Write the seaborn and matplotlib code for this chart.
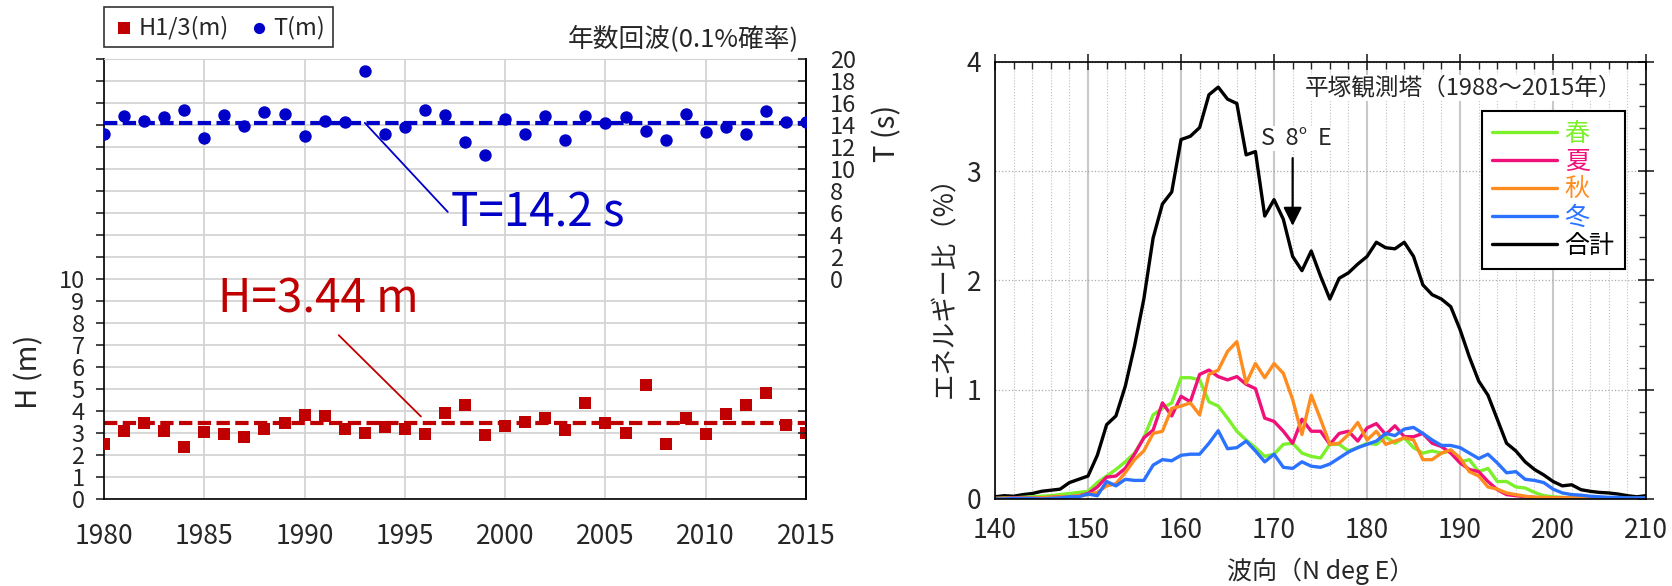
import numpy as np
import pandas as pd
import matplotlib
matplotlib.use("Agg")
import matplotlib.pyplot as plt
import seaborn as sns
from matplotlib.lines import Line2D
from matplotlib.ticker import MultipleLocator, FixedLocator

# ---- left panel data (annual max wave) ----
years = list(range(1980, 2016))
h13 = [2.52, 3.08, 3.44, 3.10, 2.37, 3.04, 2.96, 2.82, 3.16, 3.46,
       3.82, 3.79, 3.19, 3.00, 3.25, 3.16, 2.96, 3.90, 4.26, 2.90,
       3.31, 3.49, 3.67, 3.13, 4.35, 3.47, 3.00, 5.17, 2.49, 3.67,
       2.95, 3.87, 4.29, 4.83, 3.35, 3.00]
tper = [13.2, 14.8, 14.4, 14.7, 15.4, 12.85, 14.9, 13.9, 15.15, 15.0,
        13.0, 14.4, 14.3, 18.9, 13.2, 13.85, 15.4, 14.9, 12.45, 11.3,
        14.55, 13.15, 14.8, 12.65, 14.8, 14.15, 14.7, 13.5, 12.65, 15.0,
        13.4, 13.8, 13.2, 15.25, 14.3, 14.3]
H_MEAN = 3.44
T_MEAN = 14.2

# ---- right panel data (energy ratio by direction) ----
direction = list(range(140, 211))
spring = [0.005, 0.01, 0.01, 0.015, 0.02, 0.025, 0.03, 0.04, 0.05, 0.06,
          0.07, 0.15, 0.21, 0.27, 0.34, 0.42, 0.56, 0.77, 0.83, 0.88,
          1.11, 1.11, 1.09, 0.89, 0.85, 0.74, 0.62, 0.54, 0.47, 0.39,
          0.41, 0.50, 0.51, 0.42, 0.39, 0.375, 0.50, 0.50, 0.44, 0.47,
          0.51, 0.50, 0.57, 0.51, 0.56, 0.47, 0.42, 0.44, 0.42, 0.44,
          0.34, 0.36, 0.25, 0.28, 0.16, 0.16, 0.11, 0.10, 0.06, 0.03,
          0.02, 0.015, 0.01, 0.01, 0.01, 0.005, 0.005, 0.005, 0.005, 0.005,
          0.005]
summer = [0.005, 0.005, 0.01, 0.01, 0.01, 0.01, 0.015, 0.02, 0.02, 0.03,
          0.05, 0.11, 0.20, 0.21, 0.28, 0.41, 0.56, 0.63, 0.88, 0.76,
          0.94, 0.89, 1.14, 1.18, 1.12, 1.09, 1.12, 1.05, 1.01, 0.74,
          0.71, 0.62, 0.51, 0.73, 0.62, 0.62, 0.50, 0.60, 0.62, 0.53,
          0.65, 0.69, 0.59, 0.67, 0.57, 0.57, 0.60, 0.51, 0.48, 0.42,
          0.33, 0.27, 0.25, 0.16, 0.085, 0.04, 0.03, 0.02, 0.015, 0.01,
          0.01, 0.01, 0.005, 0.005, 0.005, 0.0, 0.0, 0.0, 0.0, 0.0,
          0.005]
autumn = [0.005, 0.005, 0.005, 0.01, 0.01, 0.01, 0.015, 0.02, 0.02, 0.03,
          0.04, 0.06, 0.12, 0.14, 0.24, 0.36, 0.44, 0.60, 0.62, 0.83,
          0.85, 0.88, 0.77, 1.14, 1.18, 1.35, 1.44, 1.06, 1.24, 1.11,
          1.24, 1.15, 0.91, 0.59, 0.95, 0.73, 0.50, 0.51, 0.59, 0.70,
          0.54, 0.62, 0.50, 0.53, 0.56, 0.54, 0.36, 0.36, 0.42, 0.45,
          0.375, 0.25, 0.21, 0.11, 0.09, 0.055, 0.04, 0.025, 0.015, 0.015,
          0.01, 0.01, 0.01, 0.01, 0.01, 0.01, 0.005, 0.005, 0.005, 0.005,
          0.005]
winter = [0.0, 0.0, 0.005, 0.005, 0.005, 0.0, 0.005, 0.01, 0.02, 0.02,
          0.045, 0.03, 0.16, 0.12, 0.18, 0.17, 0.17, 0.31, 0.36, 0.35,
          0.40, 0.41, 0.41, 0.51, 0.625, 0.46, 0.47, 0.53, 0.44, 0.34,
          0.41, 0.29, 0.28, 0.34, 0.30, 0.29, 0.32, 0.375, 0.43, 0.47,
          0.50, 0.53, 0.60, 0.58, 0.64, 0.655, 0.60, 0.54, 0.49, 0.49,
          0.47, 0.42, 0.37, 0.41, 0.33, 0.24, 0.25, 0.18, 0.17, 0.15,
          0.09, 0.055, 0.04, 0.035, 0.025, 0.02, 0.015, 0.015, 0.01, 0.01,
          0.01]
total = [0.02, 0.03, 0.025, 0.04, 0.05, 0.07, 0.08, 0.09, 0.15, 0.18,
         0.21, 0.40, 0.68, 0.76, 1.03, 1.40, 1.83, 2.39, 2.70, 2.81,
         3.29, 3.32, 3.40, 3.70, 3.77, 3.66, 3.62, 3.15, 3.18, 2.59,
         2.74, 2.56, 2.22, 2.09, 2.27, 2.04, 1.83, 2.02, 2.07, 2.15,
         2.22, 2.35, 2.30, 2.29, 2.35, 2.22, 1.96, 1.87, 1.83, 1.76,
         1.55, 1.30, 1.08, 0.95, 0.73, 0.51, 0.44, 0.34, 0.27, 0.22,
         0.16, 0.12, 0.13, 0.085, 0.07, 0.06, 0.055, 0.045, 0.03, 0.02,
         0.03]
seasons = ["合計", "春", "夏", "秋", "冬"]
legend_order = ["春", "夏", "秋", "冬", "合計"]
season_colors = {"春": "#7cf02a", "夏": "#f0107a", "秋": "#ff8c1e",
                 "冬": "#2a72ff", "合計": "#000000"}

RED = "#c00000"
BLUE = "#0000c8"
GRID = "#d4d4d4"

sns.set_style("white")
plt.rcParams["font.family"] = ["Noto Sans CJK JP", "DejaVu Sans"]
plt.rcParams["axes.unicode_minus"] = False

fig = plt.figure(figsize=(16.72, 5.86), dpi=100)

# ================= left panel =================
ax = fig.add_axes([0.0622, 0.1485, 0.4199, 0.7508])
ax2 = ax.twinx()

ax.set_xlim(1980, 2015)
ax.set_ylim(0, 20)
ax2.set_ylim(-20, 20)

ax.set_xticks(range(1980, 2016, 5))
ax.xaxis.set_minor_locator(MultipleLocator(1))
ax.yaxis.set_major_locator(FixedLocator(range(0, 21)))
ax.set_yticklabels([str(v) if v <= 10 else "" for v in range(0, 21)])
ax2.yaxis.set_major_locator(FixedLocator(range(-20, 21, 2)))
ax2.set_yticklabels([str(v) if v >= 0 else "" for v in range(-20, 21, 2)])

ax.grid(True, which="major", color=GRID, lw=1.3)
ax.set_axisbelow(True)

sns.scatterplot(x=years, y=h13, marker="s", color=RED, s=80, linewidth=0,
                ax=ax, label="H1/3(m)", legend=False, zorder=3)
sns.scatterplot(x=years, y=tper, marker="o", color=BLUE, s=80, linewidth=0,
                ax=ax2, label="T(m)", legend=False, zorder=3)
ax.axhline(H_MEAN, color=RED, lw=3, ls=(0, (3.2, 1.3)), zorder=2)
ax2.axhline(T_MEAN, color=BLUE, lw=3, ls=(0, (3.2, 1.3)), zorder=2)

for s in ["left", "right", "bottom"]:
    ax.spines[s].set_color("black")
    ax.spines[s].set_linewidth(1.2)
ax.spines["top"].set_color(GRID)
ax2.spines["top"].set_visible(False)
ax2.spines["left"].set_visible(False)
ax2.spines["bottom"].set_visible(False)
ax2.spines["right"].set_color("black")
ax2.spines["right"].set_linewidth(1.2)

ax.tick_params(axis="y", which="major", direction="out", length=6, width=1.2,
               labelsize=17, pad=8, right=False)
ax.tick_params(axis="x", which="major", direction="inout", length=16, width=1.2,
               labelsize=19, pad=9)
ax.tick_params(axis="x", which="minor", direction="in", length=7, width=1.0)
ax2.tick_params(axis="y", which="major", direction="in", length=6, width=1.2,
                labelsize=17, pad=17)

ax.set_ylabel("H (m)", fontsize=21)
ax.yaxis.set_label_coords(-0.085, 0.29)
ax2.set_ylabel("T (s)", fontsize=21)
ax2.yaxis.set_label_coords(1.095, 0.83)

# mean value labels
ax.annotate("T=14.2 s", xy=(1993.0, 10 + T_MEAN / 2), xytext=(1997.3, 13.0),
            color=BLUE, fontsize=33, va="center", ha="left",
            arrowprops=dict(arrowstyle="-", color=BLUE, lw=1.3,
                            shrinkA=0, shrinkB=0, relpos=(0, 0.45)))
ax.annotate("H=3.44 m", xy=(1995.8, 3.75), xytext=(1985.7, 9.1),
            color=RED, fontsize=33, va="center", ha="left",
            arrowprops=dict(arrowstyle="-", color=RED, lw=1.3,
                            shrinkA=0, shrinkB=0, relpos=(0.6, -0.25)))

fig.text(0.478, 0.935, "年数回波(0.1%確率)", fontsize=18.5, ha="right", va="center")

h1, l1 = ax.get_legend_handles_labels()
h2, l2 = ax2.get_legend_handles_labels()
leg = fig.legend(h1 + h2, l1 + l2, loc="upper left", bbox_to_anchor=(0.0622, 0.988),
                 ncol=2, fontsize=17, frameon=True, fancybox=False,
                 edgecolor="black", borderpad=0.35, handletextpad=0.1,
                 columnspacing=0.8, handlelength=1.0, markerscale=0.9,
                 borderaxespad=0)
leg.get_frame().set_linewidth(1.2)

# ================= right panel =================
ax3 = fig.add_axes([0.5951, 0.1485, 0.3894, 0.7457])

energy = pd.DataFrame({
    "direction": direction * 5,
    "ratio": total + spring + summer + autumn + winter,
    "season": [n for n in seasons for _ in direction],
})
sns.lineplot(data=energy, x="direction", y="ratio", hue="season",
             hue_order=seasons, palette=season_colors, lw=2.4,
             legend=False, ax=ax3)

ax3.set_xlim(140, 210)
ax3.set_ylim(0, 4)
ax3.xaxis.set_major_locator(MultipleLocator(10))
ax3.xaxis.set_minor_locator(MultipleLocator(2))
ax3.yaxis.set_major_locator(MultipleLocator(1))
ax3.yaxis.set_minor_locator(MultipleLocator(0.2))
ax3.grid(True, which="minor", axis="x", color="#c0c0c0", lw=0.8, ls=":")
ax3.grid(True, which="major", axis="x", color="#c8c8c8", lw=1.5, ls="-")
ax3.grid(True, which="major", axis="y", color="#aaaaaa", lw=0.9, ls=":")
ax3.set_axisbelow(True)
for s in ax3.spines.values():
    s.set_color("black")
    s.set_linewidth(1.2)
ax3.tick_params(which="major", direction="inout", length=12, width=1.2,
                top=True, right=True, labelsize=19)
ax3.tick_params(which="minor", direction="in", length=5, width=1.0,
                top=True, right=True)
ax3.tick_params(axis="x", which="major", pad=7)
ax3.tick_params(axis="y", which="major", pad=4)

ax3.set_xlabel("波向（N deg E）", fontsize=18, labelpad=10)
ax3.set_ylabel("エネルギー比（%）", fontsize=19, labelpad=6)

ax3.text(207.4, 3.76, "平塚観測塔（1988〜2015年）", fontsize=17, ha="right", va="center",
         bbox=dict(facecolor="white", edgecolor="none", pad=1))
ax3.text(172.4, 3.30, "S  8°  E", fontsize=17, ha="center", va="center",
         bbox=dict(facecolor="white", edgecolor="none", pad=1))
ax3.annotate("", xy=(172, 2.50), xytext=(172, 3.12),
             arrowprops=dict(arrowstyle="-|>", color="black", lw=1.6,
                             mutation_scale=28, shrinkA=0, shrinkB=0))

handles = [Line2D([], [], color=season_colors[n], lw=2.4) for n in legend_order]
leg3 = ax3.legend(handles, legend_order, loc="upper right",
                  bbox_to_anchor=(0.967, 0.8875), fontsize=18, frameon=True,
                  fancybox=False, edgecolor="black", handlelength=2.6,
                  handletextpad=0.3, labelspacing=0.08, borderpad=0.4,
                  borderaxespad=0,
                  labelcolor=[season_colors[n] for n in legend_order])
leg3.get_frame().set_linewidth(1.5)
leg3.get_frame().set_alpha(1)

fig.savefig("out.png", dpi=100, facecolor="white")
